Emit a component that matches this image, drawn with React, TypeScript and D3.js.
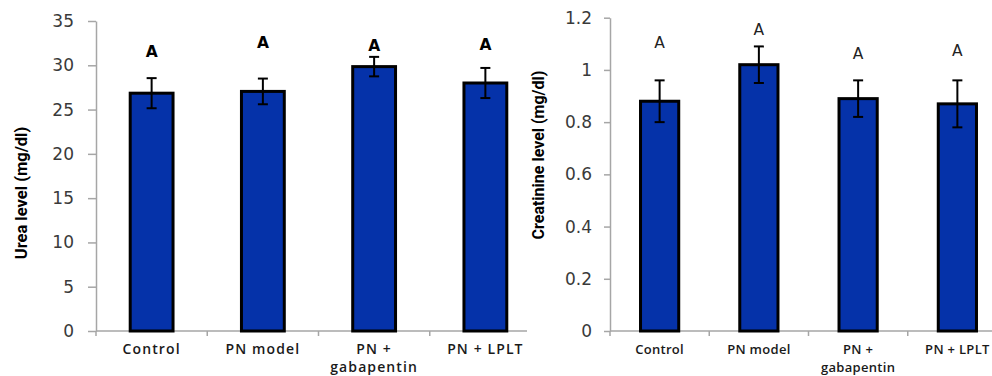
import React, { useEffect, useRef } from 'react';
import * as d3 from 'd3';

const categories = ['Control', 'PN model', 'PN + gabapentin', 'PN + LPLT'];
const categoryLines = [['Control'], ['PN model'], ['PN +', 'gabapentin'], ['PN + LPLT']];

const ureaMeans = [26.85, 27.05, 29.85, 28.0];
const ureaErrors = [1.7, 1.45, 1.1, 1.7];
const ureaLetters = ['A', 'A', 'A', 'A'];
const ureaLetterAt = [30.9, 32.0, 31.65, 31.7];
const ureaTicks = [0, 5, 10, 15, 20, 25, 30, 35];

const creatMeans = [0.88, 1.02, 0.89, 0.87];
const creatErrors = [0.08, 0.07, 0.07, 0.09];
const creatLetters = ['A', 'A', 'A', 'A'];
const creatLetterAt = [1.083, 1.133, 1.041, 1.054];
const creatTicks = [0, 0.2, 0.4, 0.6, 0.8, 1, 1.2];

const Panel = ({ means, errors, letters, letterAt, ticks, yMax, label, cfg }) => {
  const gRef = useRef(null);

  useEffect(() => {
    const g = d3.select(gRef.current);
    g.selectAll('*').remove();

    const xScale = d3
      .scaleBand()
      .domain(categories)
      .range([cfg.left, cfg.right])
      .paddingInner(0.615)
      .paddingOuter(0.3075);

    const yScale = d3.scaleLinear().domain([0, yMax]).range([331, cfg.top]);
    const step = xScale.step();
    const off = (step - xScale.bandwidth()) / 2;

    // y axis
    const yAxis = d3
      .axisLeft(yScale)
      .tickValues(ticks)
      .tickSize(cfg.tickLen)
      .tickPadding(cfg.tickPad)
      .tickSizeOuter(0)
      .tickFormat(d => String(d));

    const ya = g.append('g').attr('transform', `translate(${cfg.left},0)`).call(yAxis);
    ya.select('.domain').attr('stroke', '#a6a6a6').attr('stroke-width', 1.5);
    ya.selectAll('.tick line').attr('stroke', '#a6a6a6').attr('stroke-width', 1.5);
    ya.selectAll('.tick text')
      .attr('fill', '#3a3a3a')
      .attr('font-family', 'DejaVu Sans')
      .attr('font-size', cfg.tickFont);

    // x axis
    g.append('line')
      .attr('x1', cfg.left)
      .attr('x2', cfg.axisEnd)
      .attr('y1', yScale(0))
      .attr('y2', yScale(0))
      .attr('stroke', '#a6a6a6')
      .attr('stroke-width', 1.5);

    g.selectAll('.xtick')
      .data(categories)
      .enter()
      .append('line')
      .attr('x1', d => xScale(d) - off)
      .attr('x2', d => xScale(d) - off)
      .attr('y1', yScale(0))
      .attr('y2', yScale(0) + 5)
      .attr('stroke', '#a6a6a6')
      .attr('stroke-width', 1.5);

    const xl = g
      .selectAll('.xlabel')
      .data(categories)
      .enter()
      .append('text')
      .attr('x', d => xScale(d) + xScale.bandwidth() / 2)
      .attr('y', 354)
      .attr('text-anchor', 'middle')
      .attr('font-family', 'Open Sans')
      .attr('font-weight', 600)
      .attr('font-size', cfg.catFont)
      .attr('letter-spacing', cfg.catSpacing)
      .attr('fill', '#1a1a1a');
    xl.selectAll('tspan')
      .data((d, i) => categoryLines[i])
      .enter()
      .append('tspan')
      .attr('x', function () {
        return d3.select(this.parentNode).attr('x');
      })
      .attr('dy', (d, i) => (i === 0 ? 0 : 18))
      .text(d => d);

    // bars
    g.selectAll('.bar')
      .data(means)
      .enter()
      .append('rect')
      .attr('x', (d, i) => xScale(categories[i]))
      .attr('y', d => yScale(d))
      .attr('width', xScale.bandwidth())
      .attr('height', d => yScale(0) - yScale(d))
      .attr('fill', '#0532a9')
      .attr('stroke', '#000')
      .attr('stroke-width', 3);

    // error bars
    const cx = i => xScale(categories[i]) + xScale.bandwidth() / 2;
    const eb = g.selectAll('.err').data(means).enter().append('g');
    eb.append('line')
      .attr('x1', (d, i) => cx(i))
      .attr('x2', (d, i) => cx(i))
      .attr('y1', (d, i) => yScale(d + errors[i]))
      .attr('y2', (d, i) => yScale(d - errors[i]));
    eb.append('line')
      .attr('x1', (d, i) => cx(i) - 5)
      .attr('x2', (d, i) => cx(i) + 5)
      .attr('y1', (d, i) => yScale(d + errors[i]))
      .attr('y2', (d, i) => yScale(d + errors[i]));
    eb.append('line')
      .attr('x1', (d, i) => cx(i) - 5)
      .attr('x2', (d, i) => cx(i) + 5)
      .attr('y1', (d, i) => yScale(d - errors[i]))
      .attr('y2', (d, i) => yScale(d - errors[i]));
    eb.selectAll('line').attr('stroke', '#000').attr('stroke-width', 2);

    // letters
    g.selectAll('.letter')
      .data(letters)
      .enter()
      .append('text')
      .attr('x', (d, i) => cx(i))
      .attr('y', (d, i) => yScale(letterAt[i]))
      .attr('text-anchor', 'middle')
      .attr('font-family', 'DejaVu Sans')
      .attr('font-weight', cfg.letterWeight)
      .attr('font-size', cfg.letterFont)
      .attr('fill', cfg.letterColor)
      .text(d => d);

    // y label
    g.append('text')
      .attr('transform', `translate(${cfg.labelX},${cfg.labelY}) rotate(-90)`)
      .attr('text-anchor', 'middle')
      .attr('dominant-baseline', 'middle')
      .attr('font-family', 'Roboto')
      .attr('font-weight', 700)
      .attr('font-size', cfg.labelFont)
      .attr('fill', '#000')
      .text(label);
  }, [means, errors, letters, letterAt, ticks, yMax, label, cfg]);

  return <g ref={gRef}></g>;
};

const leftCfg = {
  left: 96, right: 541, axisEnd: 527, top: 21, tickLen: 8, tickPad: 14, tickFont: 17,
  catFont: 14, catSpacing: 1.1, letterWeight: 700, letterColor: '#000', letterFont: 15.5,
  labelX: 23, labelY: 193, labelFont: 16.5,
};
const rightCfg = {
  left: 610, right: 1007, axisEnd: 992, top: 17.7, tickLen: 6, tickPad: 12, tickFont: 17,
  catFont: 13, catSpacing: 0.3, letterWeight: 400, letterColor: '#222', letterFont: 15.5,
  labelX: 540, labelY: 155, labelFont: 16,
};

const App = () => (
  <svg width={992} height={376} style={{ position: 'absolute', left: 0, top: 0, background: '#fff' }}>
    <Panel means={ureaMeans} errors={ureaErrors} letters={ureaLetters} letterAt={ureaLetterAt}
      ticks={ureaTicks} yMax={35} label="Urea level (mg/dl)" cfg={leftCfg} />
    <Panel means={creatMeans} errors={creatErrors} letters={creatLetters} letterAt={creatLetterAt}
      ticks={creatTicks} yMax={1.2} label="Creatinine level (mg/dl)" cfg={rightCfg} />
  </svg>
);

export default App;
